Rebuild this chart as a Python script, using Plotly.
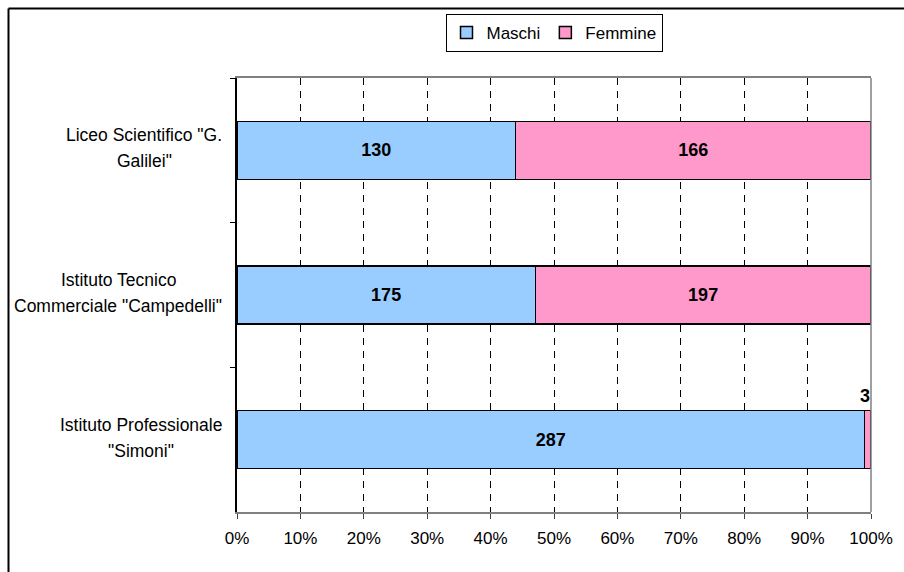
import plotly.graph_objects as go

categories = ['Liceo Scientifico "G.<br>Galilei"',
              'Istituto Tecnico<br>Commerciale "Campedelli"',
              'Istituto Professionale<br>"Simoni"']
maschi = [130, 175, 287]
femmine = [166, 197, 3]
series_names = ["Maschi", "Femmine"]
tick_vals = [0, 10, 20, 30, 40, 50, 60, 70, 80, 90, 100]
tick_text = [f"{v}%" for v in tick_vals]

FONT = "Liberation Sans, Arial, sans-serif"
FS = 17
CAT_FS = 17.5

# Arial / Liberation Sans advance widths (per 1000 em) used to centre label lines
ARIAL_W = {" ": 278, '"': 355, ".": 278, "C": 722, "G": 778, "I": 278, "L": 556,
           "P": 667, "S": 667, "T": 611, "a": 556, "c": 500, "d": 556, "e": 556,
           "f": 278, "i": 222, "l": 222, "m": 833, "n": 556, "o": 556, "p": 556,
           "r": 333, "s": 500, "t": 278, "u": 556}

def text_w(s, size):
    return sum(ARIAL_W.get(ch, 556) for ch in s) * size / 1000.0

totals = [m + f for m, f in zip(maschi, femmine)]

def labels(vals):
    return [str(v) if v / t > 0.05 else "" for v, t in zip(vals, totals)]

fig = go.Figure()
for name, vals, col in [(series_names[0], maschi, "#99CCFF"),
                        (series_names[1], femmine, "#FF99CC")]:
    fig.add_trace(go.Bar(
        name=name, y=categories, x=vals, orientation="h",
        marker=dict(color=col, line=dict(color="black", width=1.5)),
        text=labels(vals), textposition="inside", insidetextanchor="middle",
        textangle=0, constraintext="none",
        textfont=dict(family=FONT, size=18, color="black", weight="bold"),
        width=0.4, hoverinfo="skip",
    ))

# outside label for tiny segments
for cat, m, f, t in zip(categories, maschi, femmine, totals):
    if f / t <= 0.05:
        fig.add_annotation(x=(m + f / 2) / t * 100, y=cat, xref="x", yref="y",
                           text=str(f), showarrow=False, yshift=44, xshift=-3,
                           font=dict(family=FONT, size=18, color="black", weight="bold"))

# category labels: centred lines, right edge of widest line 15px left of axis
LINE_GAP = 26
for cat in categories:
    lines = cat.split("<br>")
    maxw = max(text_w(s, CAT_FS) for s in lines)
    n = len(lines)
    for i, s in enumerate(lines):
        fig.add_annotation(x=0, y=cat, xref="paper", yref="y", text=s,
                           showarrow=False, xanchor="center",
                           xshift=-15 - maxw / 2,
                           yshift=((n - 1) / 2 - i) * LINE_GAP + 2,
                           font=dict(family=FONT, size=CAT_FS, color="black"))

L, R, T, B = 237, 871, 78, 512
W, H = R - L, B - T
fig.add_shape(type="line", xref="paper", yref="paper", x0=1, x1=1, y0=0, y1=1,
              line=dict(color="#808080", width=1.5))
# outer chart frame (left and top edges visible)
fx0 = (8.5 - L) / W
fy1 = (B - 8.5) / H
fig.add_shape(type="line", xref="paper", yref="paper", x0=fx0, x1=fx0,
              y0=-0.3, y1=fy1, line=dict(color="black", width=2))
fig.add_shape(type="line", xref="paper", yref="paper", x0=fx0, x1=1.3,
              y0=fy1, y1=fy1, line=dict(color="black", width=2))

fig.update_layout(
    width=904, height=572,
    margin=dict(l=L, r=904 - R, t=T, b=572 - B),
    barmode="stack", barnorm="percent",
    plot_bgcolor="white", paper_bgcolor="white",
    font=dict(family=FONT, size=FS, color="black"),
    showlegend=True,
    legend=dict(orientation="h", x=0.5, xanchor="center",
                y=1 + (T - 14) / H, yanchor="top", traceorder="normal",
                bordercolor="black", borderwidth=1,
                font=dict(family=FONT, size=FS, color="black"),
                itemwidth=30),
)
fig.update_xaxes(range=[0, 100], tickvals=tick_vals, ticktext=tick_text,
                 showgrid=True, gridcolor="black", gridwidth=1, griddash="7px,6px",
                 showline=True, linecolor="#808080", linewidth=1.5, mirror=True,
                 ticks="outside", ticklen=5, tickcolor="#404040",
                 ticklabelstandoff=5,
                 tickfont=dict(family=FONT, size=FS, color="black"),
                 zeroline=False, fixedrange=True)
fig.update_yaxes(categoryorder="array", categoryarray=categories,
                 autorange="reversed", showticklabels=False,
                 tickson="boundaries", ticks="outside", ticklen=5, tickcolor="black",
                 showgrid=False, showline=True, linecolor="black", linewidth=1.5,
                 zeroline=False, fixedrange=True)

fig.write_html("out.html", config={"displayModeBar": False},
               post_script="document.body.style.margin='0';document.body.style.overflow='hidden';")
